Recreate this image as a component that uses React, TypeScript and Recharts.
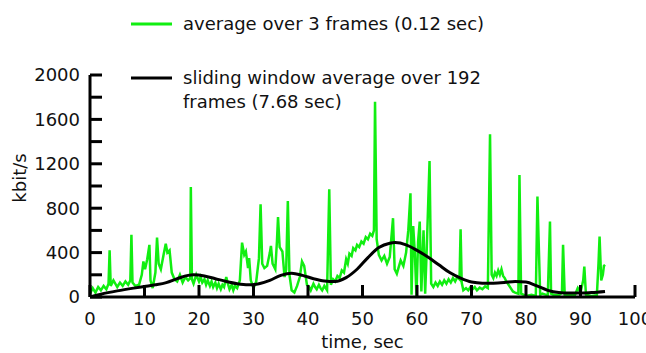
import { Line, LineChart, XAxis, YAxis } from 'recharts';

// time (s), kbit/s — short window average (3 frames)
const shortAvg: [number, number][] = [
  [0, 30], [0.5, 80], [1, 40], [1.5, 90], [2, 60], [2.5, 100], [3, 70], [3.4, 120], [3.6, 420], [3.8, 100],
  [4.3, 150], [5, 90], [5.5, 130], [6, 100], [6.5, 140], [7, 110], [7.4, 150], [7.6, 560], [7.8, 130], [8.3, 100],
  [9, 110], [9.5, 200], [9.8, 320], [10.1, 250], [10.5, 340], [10.9, 470], [11.1, 150], [11.5, 80], [12, 220], [12.3, 535],
  [12.6, 300], [13, 250], [13.5, 380], [13.9, 480], [14.2, 400], [14.6, 420], [15, 220], [15.5, 160], [16, 140], [16.5, 200],
  [17, 130], [17.5, 180], [18, 150], [18.4, 170], [18.5, 990], [18.7, 160], [19, 120], [19.5, 200], [20, 140], [20.3, 180],
  [20.6, 130], [21, 160], [21.3, 110], [21.6, 150], [22, 100], [22.3, 140], [22.6, 90], [23, 130], [23.3, 80], [23.6, 120],
  [24, 70], [24.3, 110], [24.6, 90], [25, 180], [25.3, 120], [25.6, 70], [26, 110], [26.3, 60], [26.6, 100], [27, 80],
  [27.5, 150], [27.9, 490], [28.3, 380], [28.6, 410], [29, 260], [29.2, 350], [29.5, 150], [30, 80], [30.5, 140], [31, 350],
  [31.3, 835], [31.6, 300], [32, 260], [32.5, 280], [33, 400], [33.2, 460], [33.5, 300], [34, 250], [34.3, 500], [34.5, 720],
  [34.8, 450], [35.3, 410], [35.7, 180], [36, 250], [36.3, 865], [36.6, 200], [37, 60], [37.5, 40], [38, 100], [38.5, 180],
  [38.9, 320], [39.3, 280], [39.8, 110], [40.2, 90], [40.5, 60], [41, 120], [41.3, 90], [41.6, 70], [42, 110], [42.3, 80],
  [42.6, 60], [43, 100], [43.5, 60], [43.9, 970], [44.2, 110], [44.6, 160], [45, 140], [45.4, 190], [45.8, 170], [46.2, 240],
  [46.6, 220], [47, 340], [47.3, 300], [47.6, 390], [48, 370], [48.3, 440], [48.7, 420], [49, 470], [49.4, 450], [49.8, 500],
  [50.2, 480], [50.6, 540], [51, 520], [51.4, 570], [51.8, 550], [52.1, 600], [52.3, 1760], [52.6, 520], [53, 380], [53.5, 330],
  [54, 370], [54.5, 300], [55, 360], [55.6, 710], [55.9, 250], [56.3, 210], [57, 330], [57.5, 280], [58, 400], [58.4, 600],
  [58.8, 935], [59, 20], [59.3, 640], [59.6, 400], [59.9, 10], [60.2, 500], [60.5, 680], [60.8, 50], [61.2, 600], [61.5, 30],
  [61.8, 450], [62.3, 1225], [62.6, 120], [63, 90], [63.4, 130], [63.8, 100], [64.2, 140], [64.6, 110], [65, 150], [65.4, 120],
  [65.8, 160], [66.2, 130], [66.6, 170], [67, 140], [67.4, 180], [67.8, 160], [68, 610], [68.2, 130], [68.5, 60], [69, 80],
  [69.4, 60], [69.8, 90], [70.2, 70], [70.6, 90], [71, 60], [71.5, 85], [72, 70], [72.5, 95], [73, 80], [73.4, 1466],
  [73.7, 200], [74, 170], [74.3, 220], [74.6, 190], [74.9, 240], [75.2, 200], [75.5, 250], [75.8, 190], [76.1, 170], [76.4, 140],
  [76.8, 110], [77.2, 80], [77.6, 50], [78, 40], [78.6, 30], [78.8, 1100], [79.1, 30], [80, 10], [81, 20], [81.8, 10],
  [82.1, 905], [82.3, 540], [82.6, 20], [83, 30], [84, 15], [84.4, 680], [84.6, 30], [85, 20], [86, 15], [86.6, 40],
  [86.8, 470], [87.1, 20], [88, 15], [89, 20], [89.5, 80], [90, 40], [90.5, 150], [90.7, 273], [91, 20], [92, 10],
  [93, 15], [93.3, 300], [93.5, 545], [93.8, 150], [94.1, 200], [94.3, 280], [94.5, 290]
];

// time (s), kbit/s — sliding window average (192 frames)
const slidingAvg: [number, number][] = [
  [0, 0], [2, 25], [5, 55], [8, 80], [10, 95], [12, 110], [14, 130], [16, 165], [18, 195], [19, 200],
  [21, 190], [23, 165], [25, 140], [27, 120], [29, 110], [31, 120], [33, 150], [35, 195], [37, 215], [39, 195],
  [41, 165], [43, 145], [45, 140], [47, 175], [49, 250], [51, 355], [53, 445], [55, 485], [56, 490], [58, 470],
  [60, 420], [62, 360], [64, 290], [66, 220], [68, 170], [70, 135], [72, 125], [74, 125], [76, 130], [78, 140],
  [80, 135], [82, 100], [84, 60], [86, 40], [88, 35], [90, 35], [92, 40], [94.5, 50]
];

const xTicks = [0, 10, 20, 30, 40, 50, 60, 70, 80, 90, 100];
const yTicks = [0, 200, 400, 600, 800, 1000, 1200, 1400, 1600, 1800, 2000];
const yLabelStep = 400;

const legendItems = [
  { lines: ['average over 3 frames (0.12 sec)'], color: '#11ee11' },
  { lines: ['sliding window average over 192', 'frames (7.68 sec)'], color: '#000000' }
];

const FONT = '"DejaVu Sans", sans-serif';
const TICK_LEN = 12;

const greenData = shortAvg.map(([t, v]) => ({ t, v }));
const blackData = slidingAvg.map(([t, v]) => ({ t, v }));

function YTick(props: any) {
  const { x, y, payload } = props;
  return (
    <g>
      <line x1={x} x2={x + TICK_LEN} y1={y} y2={y} stroke="#000" strokeWidth={3} />
      {payload.value % yLabelStep === 0 && (
        <text x={x - 10} y={y} dy="0.36em" textAnchor="end" fontSize={18} fontFamily={FONT} fill="#111">
          {payload.value}
        </text>
      )}
    </g>
  );
}

function XTick(props: any) {
  const { x, y, payload } = props;
  return (
    <g>
      <line x1={x} x2={x} y1={y} y2={y - TICK_LEN} stroke="#000" strokeWidth={3} />
      <text x={x} y={y + 22} dy="0.36em" textAnchor="middle" fontSize={18} fontFamily={FONT} fill="#111">
        {payload.value}
      </text>
    </g>
  );
}

function YLabel(props: any) {
  const { viewBox } = props;
  const cx = viewBox.x + 20;
  const cy = viewBox.y + viewBox.height / 2 - 8;
  return (
    <text x={cx} y={cy} dy="0.36em" transform={`rotate(-90 ${cx} ${cy})`} textAnchor="middle" fontSize={18} fontFamily={FONT} fill="#111">
      kbit/s
    </text>
  );
}

function XLabel(props: any) {
  const { viewBox } = props;
  const cx = viewBox.x + viewBox.width / 2;
  return (
    <text x={cx} y={viewBox.y + 51} textAnchor="middle" fontSize={18} fontFamily={FONT} fill="#111">
      time, sec
    </text>
  );
}

function LegendOverlay() {
  return (
    <svg width={646} height={120} style={{ position: 'absolute', left: 0, top: 0, pointerEvents: 'none' }}>
      {legendItems.map((item, i) => {
        const base = 24 + i * 54;
        return (
          <g key={i}>
            <line x1={131} x2={172} y1={base} y2={base} stroke={item.color} strokeWidth={3} />
            {item.lines.map((ln, j) => (
              <text key={j} x={183} y={base + j * 24} dy="0.36em" fontSize={18} fontFamily={FONT} fill="#111">
                {ln}
              </text>
            ))}
          </g>
        );
      })}
    </svg>
  );
}

export default function App() {
  return (
    <div style={{ position: 'relative', width: 646, height: 353, background: '#fff' }}>
      <style>{'body { margin: 0; }'}</style>
      <LineChart width={646} height={353} margin={{ top: 75, right: 11, bottom: 0, left: 0 }}>
        <XAxis
          type="number"
          dataKey="t"
          domain={[0, 100]}
          ticks={xTicks}
          interval={0}
          height={56}
          tickSize={0}
          tickMargin={0}
          tickLine={false}
          axisLine={{ stroke: '#000', strokeWidth: 3 }}
          tick={<XTick />}
          label={<XLabel />}
          allowDataOverflow
        />
        <YAxis
          type="number"
          domain={[0, 2000]}
          ticks={yTicks}
          interval={0}
          width={90}
          tickSize={0}
          tickMargin={0}
          tickLine={false}
          axisLine={{ stroke: '#000', strokeWidth: 3 }}
          tick={<YTick />}
          label={<YLabel />}
          allowDataOverflow
        />
        <Line
          data={greenData}
          dataKey="v"
          type="linear"
          stroke="#11ee11"
          strokeWidth={2.5}
          dot={false}
          activeDot={false}
          isAnimationActive={false}
        />
        <Line
          data={blackData}
          dataKey="v"
          type="monotone"
          stroke="#000"
          strokeWidth={3}
          dot={false}
          activeDot={false}
          isAnimationActive={false}
        />
      </LineChart>
      <LegendOverlay />
    </div>
  );
}
